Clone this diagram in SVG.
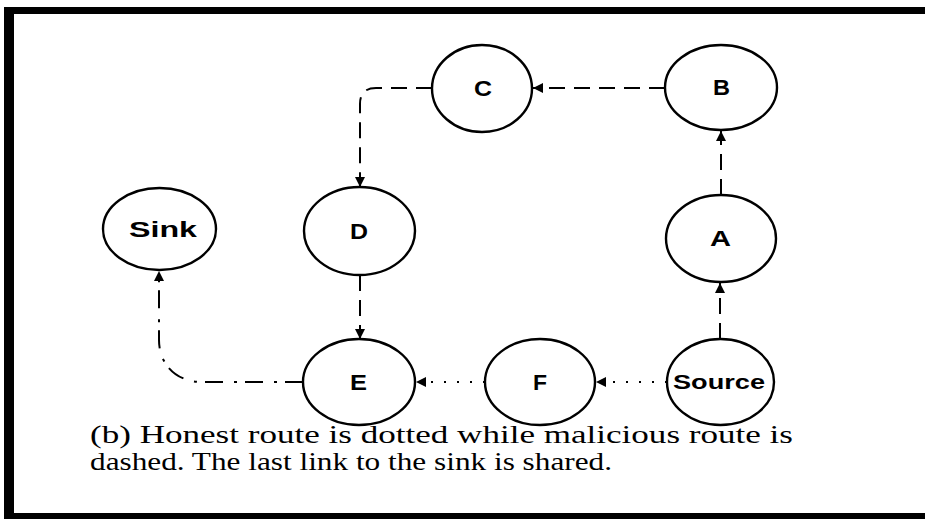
<svg xmlns="http://www.w3.org/2000/svg" width="925" height="519" viewBox="0 0 925 519">
<style>
.node ellipse{fill:#fff;stroke:#000;stroke-width:2.4}
.node text{font-family:"Liberation Sans",Arial,sans-serif;font-weight:bold;font-size:22px;text-anchor:middle;fill:#000}
.edge{fill:none;stroke:#000;stroke-width:2}
.dashed{stroke-dasharray:16 9}
.dotted{stroke-dasharray:2 11}
.dashdot{stroke-dasharray:18 8 3 11}
.caption{font-family:"Liberation Serif","Times New Roman",serif;font-size:26px;fill:#000}
</style>
<defs>
<marker id="arr" viewBox="0 0 10 10" refX="10" refY="5" markerWidth="10" markerHeight="10" markerUnits="userSpaceOnUse" orient="auto">
<path d="M0,0 L10,5 L0,10 z" fill="#000"/>
</marker>
</defs>
<rect width="925" height="519" fill="#fff"/>
<g id="frame" fill="#000">
<rect x="4" y="7" width="921" height="7"/>
<rect x="4" y="7" width="10" height="512"/>
<rect x="4" y="513" width="921" height="6"/>
</g>
<g id="connectors">
<path class="edge dashed" d="M665,88 L533,88" marker-end="url(#arr)"/>
<path class="edge dashed" d="M721,195 L721,131" marker-end="url(#arr)"/>
<path class="edge dashed" d="M720,339 L720,283" marker-end="url(#arr)"/>
<path class="edge dashed" d="M432,88 L376,88 Q360,88 360,104 L360,187" marker-end="url(#arr)"/>
<path class="edge dashed" d="M360,275 L360,339" marker-end="url(#arr)"/>
<path class="edge dotted" d="M667,382 L596,382" marker-end="url(#arr)"/>
<path class="edge dotted" d="M485,382 L416,382" marker-end="url(#arr)"/>
<path class="edge dashdot" d="M303,382 L202,382 C176,382 159,364 159,340 L159,271" marker-end="url(#arr)"/>
</g>
<g id="node-sink" class="node"><ellipse cx="159.5" cy="229" rx="56.5" ry="41"/><text x="163" y="237" textLength="68" lengthAdjust="spacingAndGlyphs">Sink</text></g>
<g id="node-c" class="node"><ellipse cx="482" cy="88.5" rx="50" ry="43.5"/><text x="483" y="96" textLength="18" lengthAdjust="spacingAndGlyphs">C</text></g>
<g id="node-b" class="node"><ellipse cx="721" cy="87.5" rx="56" ry="42.5"/><text x="721.5" y="95" textLength="17" lengthAdjust="spacingAndGlyphs">B</text></g>
<g id="node-a" class="node"><ellipse cx="721" cy="238.5" rx="55" ry="43.5"/><text x="720.5" y="246" textLength="21" lengthAdjust="spacingAndGlyphs">A</text></g>
<g id="node-d" class="node"><ellipse cx="359.5" cy="231" rx="55.5" ry="44"/><text x="359" y="239" textLength="18" lengthAdjust="spacingAndGlyphs">D</text></g>
<g id="node-e" class="node"><ellipse cx="359" cy="382" rx="56" ry="43"/><text x="358.5" y="390" textLength="17" lengthAdjust="spacingAndGlyphs">E</text></g>
<g id="node-f" class="node"><ellipse cx="540" cy="382" rx="55" ry="43"/><text x="540" y="390" textLength="14" lengthAdjust="spacingAndGlyphs">F</text></g>
<g id="node-source" class="node"><ellipse cx="720.5" cy="382" rx="53.5" ry="43"/><text x="719" y="389" textLength="92" lengthAdjust="spacingAndGlyphs" style="font-size:21px">Source</text></g>
<g id="caption">
<text class="caption" x="90" y="443" textLength="703" lengthAdjust="spacingAndGlyphs">(b) Honest route is dotted while malicious route is</text>
<text class="caption" x="90" y="470" textLength="522" lengthAdjust="spacingAndGlyphs">dashed. The last link to the sink is shared.</text>
</g>
</svg>
